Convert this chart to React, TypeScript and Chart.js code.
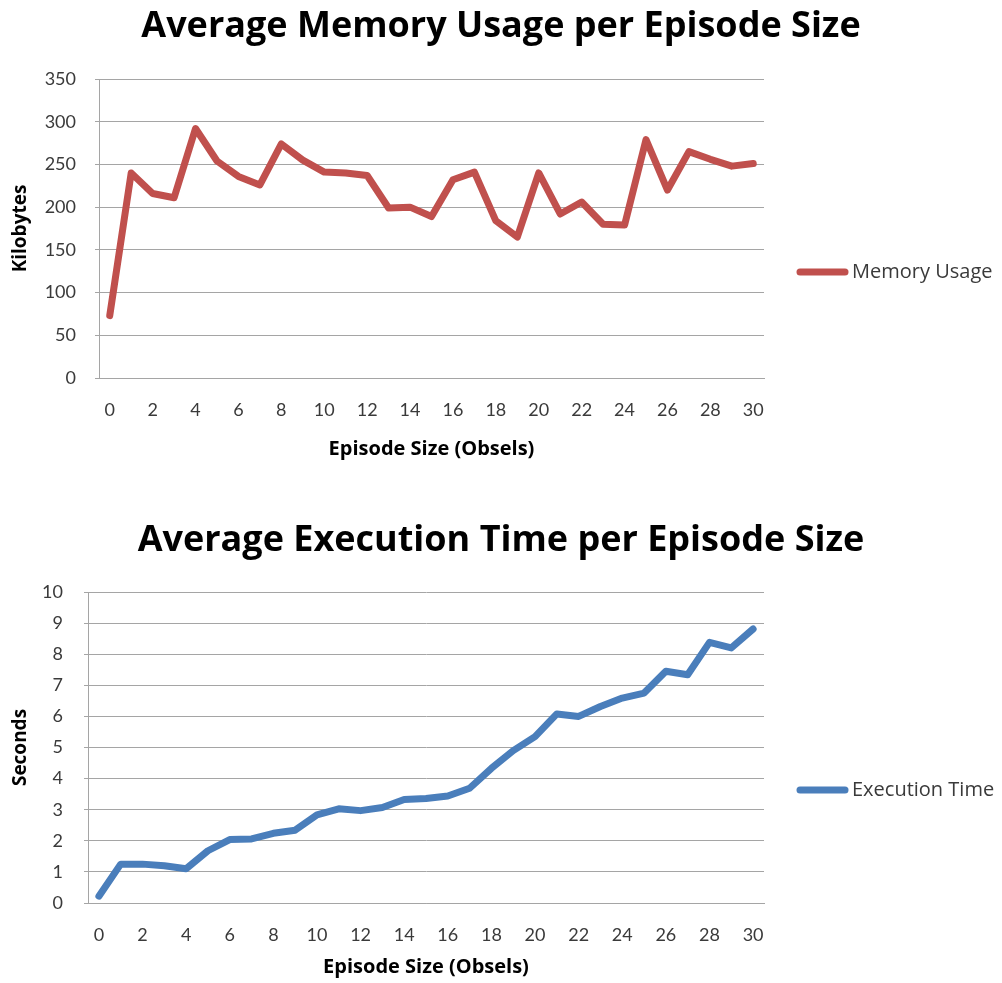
import React, { useEffect, useRef } from 'react';
import { Chart, registerables } from 'chart.js';

Chart.register(...registerables);

// ---------- data ----------
const episodeSizes = [
  '0', '1', '2', '3', '4', '5', '6', '7', '8', '9', '10', '11', '12', '13', '14', '15',
  '16', '17', '18', '19', '20', '21', '22', '23', '24', '25', '26', '27', '28', '29', '30',
];
const memoryUsage = [
  73, 240, 216, 211, 292, 254, 236, 226, 274, 255, 241, 240, 237, 199, 200, 189,
  232, 241, 184, 165, 240, 192, 206, 180, 179, 279, 220, 265, 256, 248, 251,
];
const executionTime = [
  0.22, 1.25, 1.25, 1.2, 1.1, 1.68, 2.04, 2.06, 2.24, 2.34, 2.83, 3.03, 2.97, 3.07, 3.33, 3.36,
  3.44, 3.69, 4.33, 4.9, 5.35, 6.08, 6.0, 6.32, 6.59, 6.75, 7.45, 7.34, 8.38, 8.2, 8.81,
];
const memoryAxis = { min: 0, max: 350, step: 50 };
const timeAxis = { min: 0, max: 10, step: 1 };

const FONT = '"Open Sans", Lato, sans-serif';
const TICK_FONT = 'Lato, "Open Sans", sans-serif';
const GRID = '#A5A5A5';
const TICK_COLOR = '#3a3a3a';

const sideLegend = {
  id: 'sideLegend',
  afterDraw(chart: any, _args: any, opts: any) {
    const ds = chart.data.datasets[0];
    const ctx = chart.ctx as CanvasRenderingContext2D;
    ctx.save();
    ctx.strokeStyle = ds.borderColor;
    ctx.lineWidth = opts.lineWidth;
    ctx.lineCap = 'round';
    ctx.beginPath();
    ctx.moveTo(opts.x, opts.y);
    ctx.lineTo(opts.x + opts.length, opts.y);
    ctx.stroke();
    ctx.fillStyle = opts.color;
    ctx.font = `${opts.size}px ${FONT}`;
    ctx.textBaseline = 'middle';
    ctx.textAlign = 'left';
    ctx.fillText(ds.label, opts.x + opts.length + opts.gap, opts.y);
    ctx.restore();
  },
};

type Spec = {
  title: string;
  yTitle: string;
  label: string;
  values: number[];
  color: string;
  axis: { min: number; max: number; step: number };
  height: number;
  layout: {
    titlePadTop: number;
    titlePadBottom: number;
    yWidth: number;
    yTickPad: number;
    yTitlePad: number;
    xHeight: number;
    xTickPad: number;
    xTitlePadBottom: number;
    right: number;
    legendY: number;
  };
};

function makeConfig(s: Spec): any {
  const L = s.layout;
  return {
    type: 'line',
    data: {
      labels: episodeSizes,
      datasets: [
        {
          label: s.label,
          data: s.values,
          borderColor: s.color,
          backgroundColor: s.color,
          borderWidth: 7,
          pointRadius: 0,
          pointHoverRadius: 0,
          tension: 0,
          borderJoinStyle: 'round',
          borderCapStyle: 'round',
          fill: false,
          yAxisID: 'y',
        },
      ],
    },
    options: {
      responsive: false,
      animation: false,
      devicePixelRatio: 1,
      layout: { padding: 0 },
      plugins: {
        legend: { display: false },
        tooltip: { enabled: false },
        title: {
          display: true,
          text: s.title,
          color: '#000',
          font: { family: FONT, size: 36, weight: 'bold' },
          padding: { top: L.titlePadTop, bottom: L.titlePadBottom },
        },
        sideLegend: {
          x: 800,
          y: L.legendY,
          length: 45,
          gap: 7,
          lineWidth: 7,
          size: 20,
          color: TICK_COLOR,
        },
      },
      scales: {
        x: {
          type: 'category',
          offset: true,
          grid: { display: false },
          border: { display: true, color: GRID, width: 1 },
          ticks: {
            autoSkip: false,
            maxRotation: 0,
            color: TICK_COLOR,
            font: { family: TICK_FONT, size: 18 },
            padding: L.xTickPad,
            callback: (_v: any, i: number) => (i % 2 === 0 ? episodeSizes[i] : ''),
          },
          title: {
            display: true,
            text: 'Episode Size (Obsels)',
            color: '#000',
            font: { family: FONT, size: 20, weight: 'bold' },
            padding: { top: 0, bottom: L.xTitlePadBottom },
          },
          afterFit: (scale: any) => {
            scale.height = L.xHeight;
          },
        },
        y: {
          position: 'left',
          min: s.axis.min,
          max: s.axis.max,
          grid: { color: GRID, lineWidth: 1, drawTicks: true, tickLength: 4 },
          border: { display: true, color: GRID, width: 1 },
          ticks: {
            stepSize: s.axis.step,
            color: TICK_COLOR,
            font: { family: TICK_FONT, size: 18 },
            padding: L.yTickPad,
          },
          title: {
            display: true,
            text: s.yTitle,
            color: '#000',
            font: { family: FONT, size: 19, weight: 'bold' },
            padding: { top: L.yTitlePad, bottom: 0 },
          },
          afterFit: (scale: any) => {
            scale.width = L.yWidth;
          },
        },
        legendSpace: {
          type: 'linear',
          position: 'right',
          display: true,
          grid: { display: false, drawTicks: false },
          border: { display: false },
          ticks: { display: false },
          title: { display: false },
          afterFit: (scale: any) => {
            scale.width = L.right;
          },
        },
      },
    },
    plugins: [sideLegend],
  };
}

function LineChart({ spec }: { spec: Spec }) {
  const ref = useRef<HTMLCanvasElement | null>(null);
  useEffect(() => {
    if (!ref.current) return;
    const chart = new Chart(ref.current, makeConfig(spec));
    return () => chart.destroy();
  }, [spec]);
  return (
    <canvas
      ref={ref}
      width={1002}
      height={spec.height}
      style={{ display: 'block', width: 1002, height: spec.height }}
    />
  );
}

const memorySpec: Spec = {
  title: 'Average Memory Usage per Episode Size',
  yTitle: 'Kilobytes',
  label: 'Memory Usage',
  values: memoryUsage,
  color: '#C0504D',
  axis: memoryAxis,
  height: 491,
  layout: {
    titlePadTop: 5,
    titlePadBottom: 30.8,
    yWidth: 99,
    yTickPad: 19,
    yTitlePad: 9,
    xHeight: 113,
    xTickPad: 13,
    xTitlePadBottom: 30,
    right: 238,
    legendY: 272,
  },
};

const timeSpec: Spec = {
  title: 'Average Execution Time per Episode Size',
  yTitle: 'Seconds',
  label: 'Execution Time',
  values: executionTime,
  color: '#4A7EBB',
  axis: timeAxis,
  height: 492,
  layout: {
    titlePadTop: 28,
    titlePadBottom: 29.8,
    yWidth: 88,
    yTickPad: 21,
    yTitlePad: 9,
    xHeight: 80,
    xTickPad: 13,
    xTitlePadBottom: 4,
    right: 238,
    legendY: 299,
  },
};

export default function App() {
  return (
    <div
      style={{
        position: 'absolute',
        left: 0,
        top: 0,
        width: 1002,
        height: 983,
        background: '#fff',
        overflow: 'hidden',
      }}
    >
      <LineChart spec={memorySpec} />
      <LineChart spec={timeSpec} />
    </div>
  );
}
